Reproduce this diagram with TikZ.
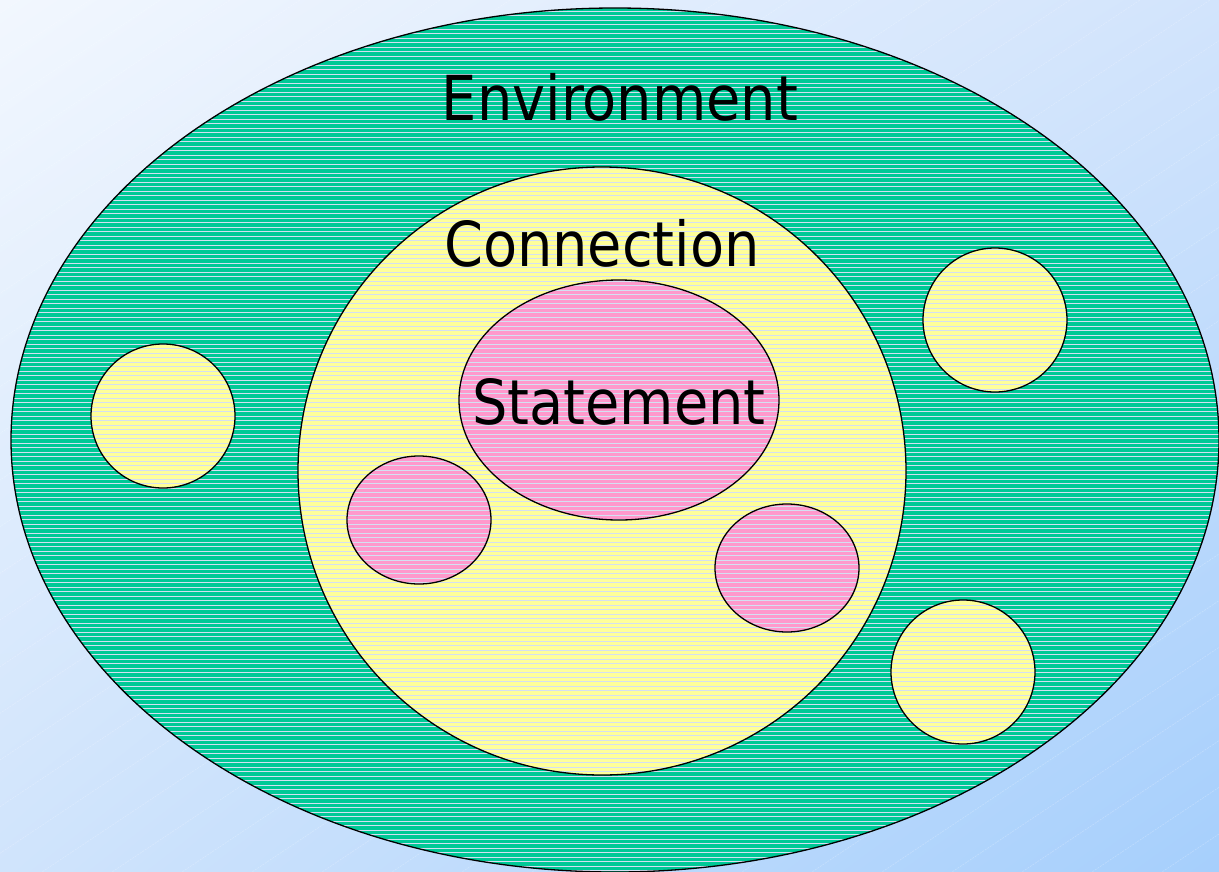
\documentclass[tikz,border=0pt]{standalone}
\usepackage{fontspec}
\setmainfont{DejaVu Sans Condensed}
\usetikzlibrary{shadings}
\definecolor{bgTL}{HTML}{F2F7FE}
\definecolor{bgTR}{HTML}{D2E4FC}
\definecolor{bgBL}{HTML}{D0E4FC}
\definecolor{bgBR}{HTML}{A6CFFC}
\definecolor{envgreen}{HTML}{00C996}
\definecolor{conyellow}{HTML}{FFFF99}
\definecolor{stapink}{HTML}{FF99CC}
\definecolor{stripe}{HTML}{D4E0F2}
\tikzset{
  outline/.style={draw=black, line width=1.3pt},
  lbl/.style={font=\fontsize{62}{62}\selectfont, text=black, inner sep=0pt},
}
\begin{document}
\begin{tikzpicture}[x=1pt,y=-1pt]
\useasboundingbox (0,0) rectangle (1219,871);
% background
\shade[upper left=bgTL, upper right=bgTR, lower left=bgBL, lower right=bgBR] (0,0) rectangle (1219,871);
\begin{scope}
\clip (0,0) rectangle (1219,871);
\foreach \k in {-30,...,30} {
  \draw[white, opacity=0.25, line width=0.6pt, dash pattern=on 2pt off 1pt] (\k*70,900) -- ++(1500,-1000);
}
\end{scope}
% environment
\fill[envgreen] (615,440) ellipse [x radius=604, y radius=432];
\begin{scope}
\clip (615,440) ellipse [x radius=604, y radius=432];
\foreach \yy in {2,6.5,...,875} {\draw[stripe, line width=1pt] (0,\yy) -- (1219,\yy);}
\end{scope}
\draw[outline] (615,440) ellipse [x radius=604, y radius=432];
% yellow circles
\foreach \cx/\cy/\r in {602/471/304, 163/416/72, 995/320/72, 963/672/72} {
  \fill[conyellow] (\cx,\cy) circle [radius=\r];
  \begin{scope}
  \clip (\cx,\cy) circle [radius=\r];
  \foreach \yy in {2,6.5,...,875} {\draw[stripe, line width=1pt] (0,\yy) -- (1219,\yy);}
  \end{scope}
  \draw[outline] (\cx,\cy) circle [radius=\r];
}
% pink shapes
\foreach \cx/\cy/\rx/\ry in {619/400/160/120, 419/520/72/64, 787/568/72/64} {
  \fill[stapink] (\cx,\cy) ellipse [x radius=\rx, y radius=\ry];
  \begin{scope}
  \clip (\cx,\cy) ellipse [x radius=\rx, y radius=\ry];
  \foreach \yy in {2,6.5,...,875} {\draw[stripe, line width=1pt] (0,\yy) -- (1219,\yy);}
  \end{scope}
  \draw[outline] (\cx,\cy) ellipse [x radius=\rx, y radius=\ry];
}
% labels
\node[lbl] (env) at (620,97) {Environment};
\node[lbl] (con) at (602,243) {Connection};
\node[lbl] (sta) at (619,402) {Statement};
\end{tikzpicture}
\end{document}
